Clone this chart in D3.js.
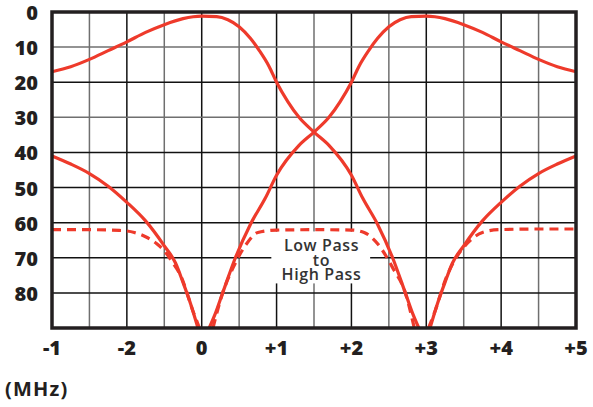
<!DOCTYPE html>
<html lang="en">
<head>
<meta charset="UTF-8">
<title>Filter response</title>
<style>
    body { margin: 0; background: #fff; }
    svg { display: block; }
    .tick-label { font-family: "Open Sans", sans-serif; font-weight: 800; font-size: 20px; fill: #231f20; }
    .unit-label { font-family: "Open Sans", sans-serif; font-weight: 700; font-size: 20px; letter-spacing: 1.2px; fill: #231f20; }
    .box-label { font-family: "Open Sans", sans-serif; font-weight: 600; font-size: 16px; letter-spacing: 0.6px; fill: #333; }
</style>
</head>
<body>
<svg id="chart" width="593" height="407"></svg>
<script src="https://d3js.org/d3.v7.min.js"></script>
<script>
    // tick labels as printed on the chart
    const xTicks = [-2, -1, 0, 1, 2, 3, 4, 5];
    const xTickLabels = ["-1", "-2", "0", "+1", "+2", "+3", "+4", "+5"];
    const yTicks = [0, 10, 20, 30, 40, 50, 60, 70, 80];

    // low pass passband (solid)
    const lowPass = [[-2, 17], [-1.75, 15.6], [-1.5, 13.5], [-1.25, 11], [-1, 8.5], [-0.75, 5.8], [-0.5, 3.6],
        [-0.25, 1.9], [0, 1.2], [0.2, 1.3], [0.35, 2.2], [0.5, 4.2], [0.65, 7.5], [0.77, 11], [0.9, 15.5],
        [1, 20], [1.15, 25.5], [1.3, 30], [1.5, 34.2], [1.7, 38], [2, 46.5], [2.15, 53], [2.35, 60.5],
        [2.55, 70], [2.72, 80], [2.82, 86], [2.9, 90]];
    // high pass passband (solid)
    const highPass = [[0.1, 90], [0.18, 86], [0.28, 80], [0.45, 70], [0.65, 60.5], [0.85, 53], [1, 46.5],
        [1.3, 38], [1.5, 34.2], [1.7, 30], [1.85, 25.5], [2, 20], [2.1, 15.5], [2.23, 11], [2.35, 7.5],
        [2.5, 4.2], [2.65, 2.2], [2.8, 1.3], [3, 1.2], [3.25, 1.9], [3.5, 3.6], [3.75, 5.8], [4, 8.5],
        [4.25, 11], [4.5, 13.5], [4.75, 15.6], [5, 17]];
    // notch skirts (solid)
    const skirtLeft = [[-2, 41], [-1.75, 43.3], [-1.5, 46], [-1.25, 49.6], [-1, 54.2], [-0.75, 59.5],
        [-0.5, 66.6], [-0.35, 71.5], [-0.25, 77], [-0.15, 83], [-0.05, 90]];
    const skirtRight = [[3.05, 90], [3.15, 83], [3.25, 77], [3.35, 71.5], [3.5, 66.6], [3.75, 59.5],
        [4, 54.2], [4.25, 49.6], [4.5, 46], [4.75, 43.3], [5, 41]];
    // low pass to high pass isolation (dashed)
    const isoLeft = [[-2, 62], [-1.5, 62], [-1.1, 62.2], [-0.9, 62.8], [-0.75, 64], [-0.6, 66], [-0.5, 68],
        [-0.4, 71], [-0.27, 75.6], [-0.12, 85], [-0.03, 90]];
    const isoMid = [[0.15, 90], [0.28, 80], [0.42, 72.8], [0.6, 66], [0.75, 62.8], [1, 62.1], [1.5, 62],
        [2, 62.1], [2.17, 62.8], [2.35, 66], [2.55, 72.8], [2.72, 80], [2.84, 90]];
    const isoRight = [[3.03, 90], [3.12, 85], [3.26, 76], [3.39, 70.3], [3.5, 67], [3.61, 64.6],
        [3.75, 62.8], [3.97, 62], [4.5, 61.8], [5, 61.8]];

    const boxText = ["Low Pass", "to", "High Pass"];

    const margin = { top: 12, right: 17, bottom: 79, left: 52 };
    const width = 593, height = 407;
    const red = "#ee3a2b";

    const x = d3.scaleLinear().domain([-2, 5]).range([margin.left, width - margin.right]);
    const y = d3.scaleLinear().domain([0, 90]).range([margin.top, height - margin.bottom]);

    const svg = d3.select("#chart");

    // grid
    const grid = svg.append("g");
    d3.range(-1.5, 5, 0.5).forEach(v => {
        grid.append("line")
            .attr("x1", x(v)).attr("x2", x(v))
            .attr("y1", y(0)).attr("y2", y(90))
            .attr("stroke", Number.isInteger(v) ? "#111" : "#6f6f6f")
            .attr("stroke-width", 1.5);
    });
    yTicks.slice(1).forEach(v => {
        grid.append("line")
            .attr("x1", x(-2)).attr("x2", x(5))
            .attr("y1", y(v)).attr("y2", y(v))
            .attr("stroke", (v === 10 || v === 30) ? "#6f6f6f" : "#111")
            .attr("stroke-width", 1.5);
    });

    // white label box over the grid
    const bx = x(0.93), bw = x(2.25) - x(0.93);
    svg.append("rect")
        .attr("x", bx).attr("y", y(62.5))
        .attr("width", bw).attr("height", y(77.3) - y(62.5))
        .attr("fill", "#fff");

    // curves
    const line = d3.line()
        .x(d => x(d[0]))
        .y(d => y(d[1]))
        .curve(d3.curveMonotoneX);

    [lowPass, highPass, skirtLeft, skirtRight].forEach(s => {
        svg.append("path")
            .attr("d", line(s))
            .attr("fill", "none")
            .attr("stroke", red)
            .attr("stroke-width", 3.2);
    });
    [isoLeft, isoMid, isoRight].forEach(s => {
        svg.append("path")
            .attr("d", line(s))
            .attr("fill", "none")
            .attr("stroke", red)
            .attr("stroke-width", 3.2)
            .attr("stroke-dasharray", "9,6");
    });

    // box text, one text element with three lines
    const label = svg.append("text")
        .attr("class", "box-label")
        .attr("text-anchor", "middle");
    boxText.forEach((t, i) => {
        label.append("tspan")
            .attr("x", x(1.6))
            .attr("y", 251 + i * 14.5)
            .text(t);
    });

    // frame
    svg.append("rect")
        .attr("x", x(-2)).attr("y", y(0))
        .attr("width", x(5) - x(-2)).attr("height", y(90) - y(0))
        .attr("fill", "none")
        .attr("stroke", "#231f20")
        .attr("stroke-width", 3.5);

    // tick labels
    svg.selectAll(".ylab")
        .data(yTicks)
        .enter().append("text")
        .attr("class", "tick-label")
        .attr("x", 38)
        .attr("y", d => y(d) + 8)
        .attr("text-anchor", "end")
        .text(d => d);

    svg.selectAll(".xlab")
        .data(xTicks)
        .enter().append("text")
        .attr("class", "tick-label")
        .attr("x", d => x(d))
        .attr("y", 355)
        .attr("text-anchor", "middle")
        .text((d, i) => xTickLabels[i]);

    svg.append("text")
        .attr("class", "unit-label")
        .attr("x", 5)
        .attr("y", 396)
        .text("(MHz)");
</script>
</body>
</html>
